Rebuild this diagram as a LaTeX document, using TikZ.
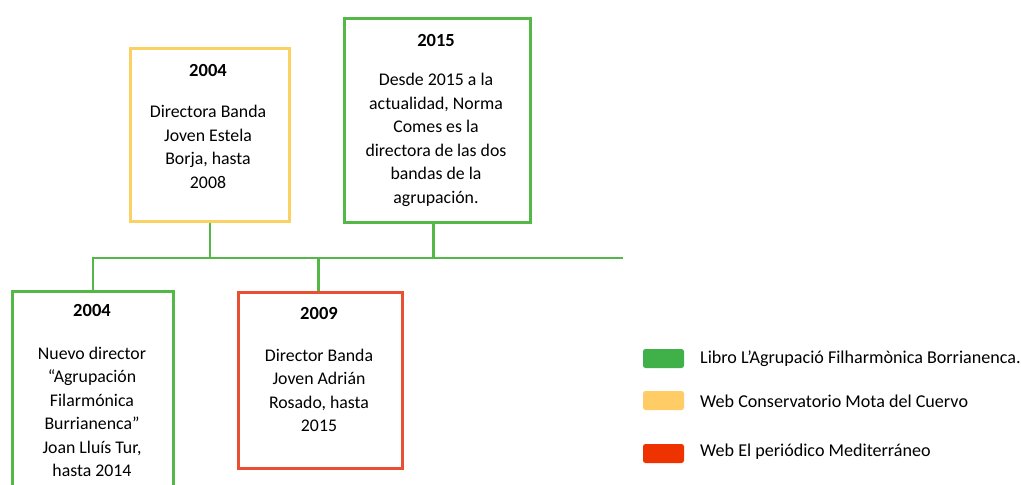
\documentclass[tikz,border=0pt]{standalone}
\usepackage{fontspec}
\setmainfont{Carlito}
\definecolor{lgreen}{RGB}{84,184,72}
\definecolor{lyellow}{RGB}{250,210,100}
\definecolor{lred}{RGB}{233,80,50}
\definecolor{sgreen}{RGB}{64,176,72}
\definecolor{syellow}{RGB}{255,204,102}
\definecolor{sred}{RGB}{238,50,0}
\tikzset{
  tbox/.style={draw, line width=2.6pt, inner sep=0pt, anchor=north west},
  ttl/.style={font=\bfseries\fontsize{18.5}{23.5}\selectfont, inner sep=0pt},
  body/.style={font=\fontsize{17.8}{23.5}\selectfont, align=center, inner sep=0pt},
  conn/.style={draw=lgreen, line width=2.6pt},
  swatch/.style={rounded corners=2.5pt, minimum width=41pt, minimum height=19pt, inner sep=0pt},
  legtxt/.style={font=\fontsize{18.1}{23.5}\selectfont, anchor=west, inner sep=0pt}
}
\begin{document}
\begin{tikzpicture}[x=1pt,y=-1pt]
\useasboundingbox (0,0) rectangle (1021,485);
\clip (0,0) rectangle (1021,485);
\fill[white] (0,0) rectangle (1021,485);
% boxes
\node[tbox, draw=lyellow, minimum width=159pt, minimum height=173pt] (yel) at (129,47) {};
\node[tbox, draw=lgreen, minimum width=186pt, minimum height=204pt] (g15) at (343,17) {};
\node[tbox, draw=lgreen, minimum width=161pt, minimum height=230pt] (b1) at (11,290) {};
\node[tbox, draw=lred, minimum width=164pt, minimum height=176pt] (red) at (237,291) {};
% timeline
\coordinate (tlR) at (623,258);
\draw[conn] (b1.north) |- (tlR);
\draw[conn] ([xshift=-2pt]red.north) -- ([xshift=-2pt]red.north |- tlR);
\draw[conn] (yel.south) -- (yel.south |- tlR);
\draw[conn] ([xshift=-4pt]g15.south) -- ([xshift=-4pt]g15.south |- tlR);
% texts
\node[ttl] (yelt) at (208,70) {2004};
\node[body] (yelb) at (208,147) {Directora Banda\\Joven Estela\\Borja, hasta\\2008};
\node[ttl] (g15t) at (436,40) {2015};
\node[body] (g15b) at (436,140) {Desde 2015 a la\\actualidad, Norma\\Comes es la\\directora de las dos\\bandas de la\\agrupación.};
\node[ttl] (b1t) at (92,310) {2004};
\node[body] (b1b) at (92,412) {Nuevo director\\“Agrupación\\Filarmónica\\Burrianenca”\\Joan Lluís Tur,\\hasta 2014};
\node[ttl] (redt) at (319,313) {2009};
\node[body] (redb) at (319,390.5) {Director Banda\\Joven Adrián\\Rosado, hasta\\2015};
% legend
\node[swatch, fill=sgreen] (s1) at (663.5,358.5) {};
\node[swatch, fill=syellow] (s2) at (663.5,400.5) {};
\node[swatch, fill=sred] (s3) at (663.5,453.5) {};
\node[legtxt] (l1) at (700,359) {Libro L’Agrupació Filharmònica Borrianenca.};
\node[legtxt] (l2) at (700,401) {Web Conservatorio Mota del Cuervo};
\node[legtxt] (l3) at (700,452) {Web El periódico Mediterráneo};
\end{tikzpicture}
\end{document}
